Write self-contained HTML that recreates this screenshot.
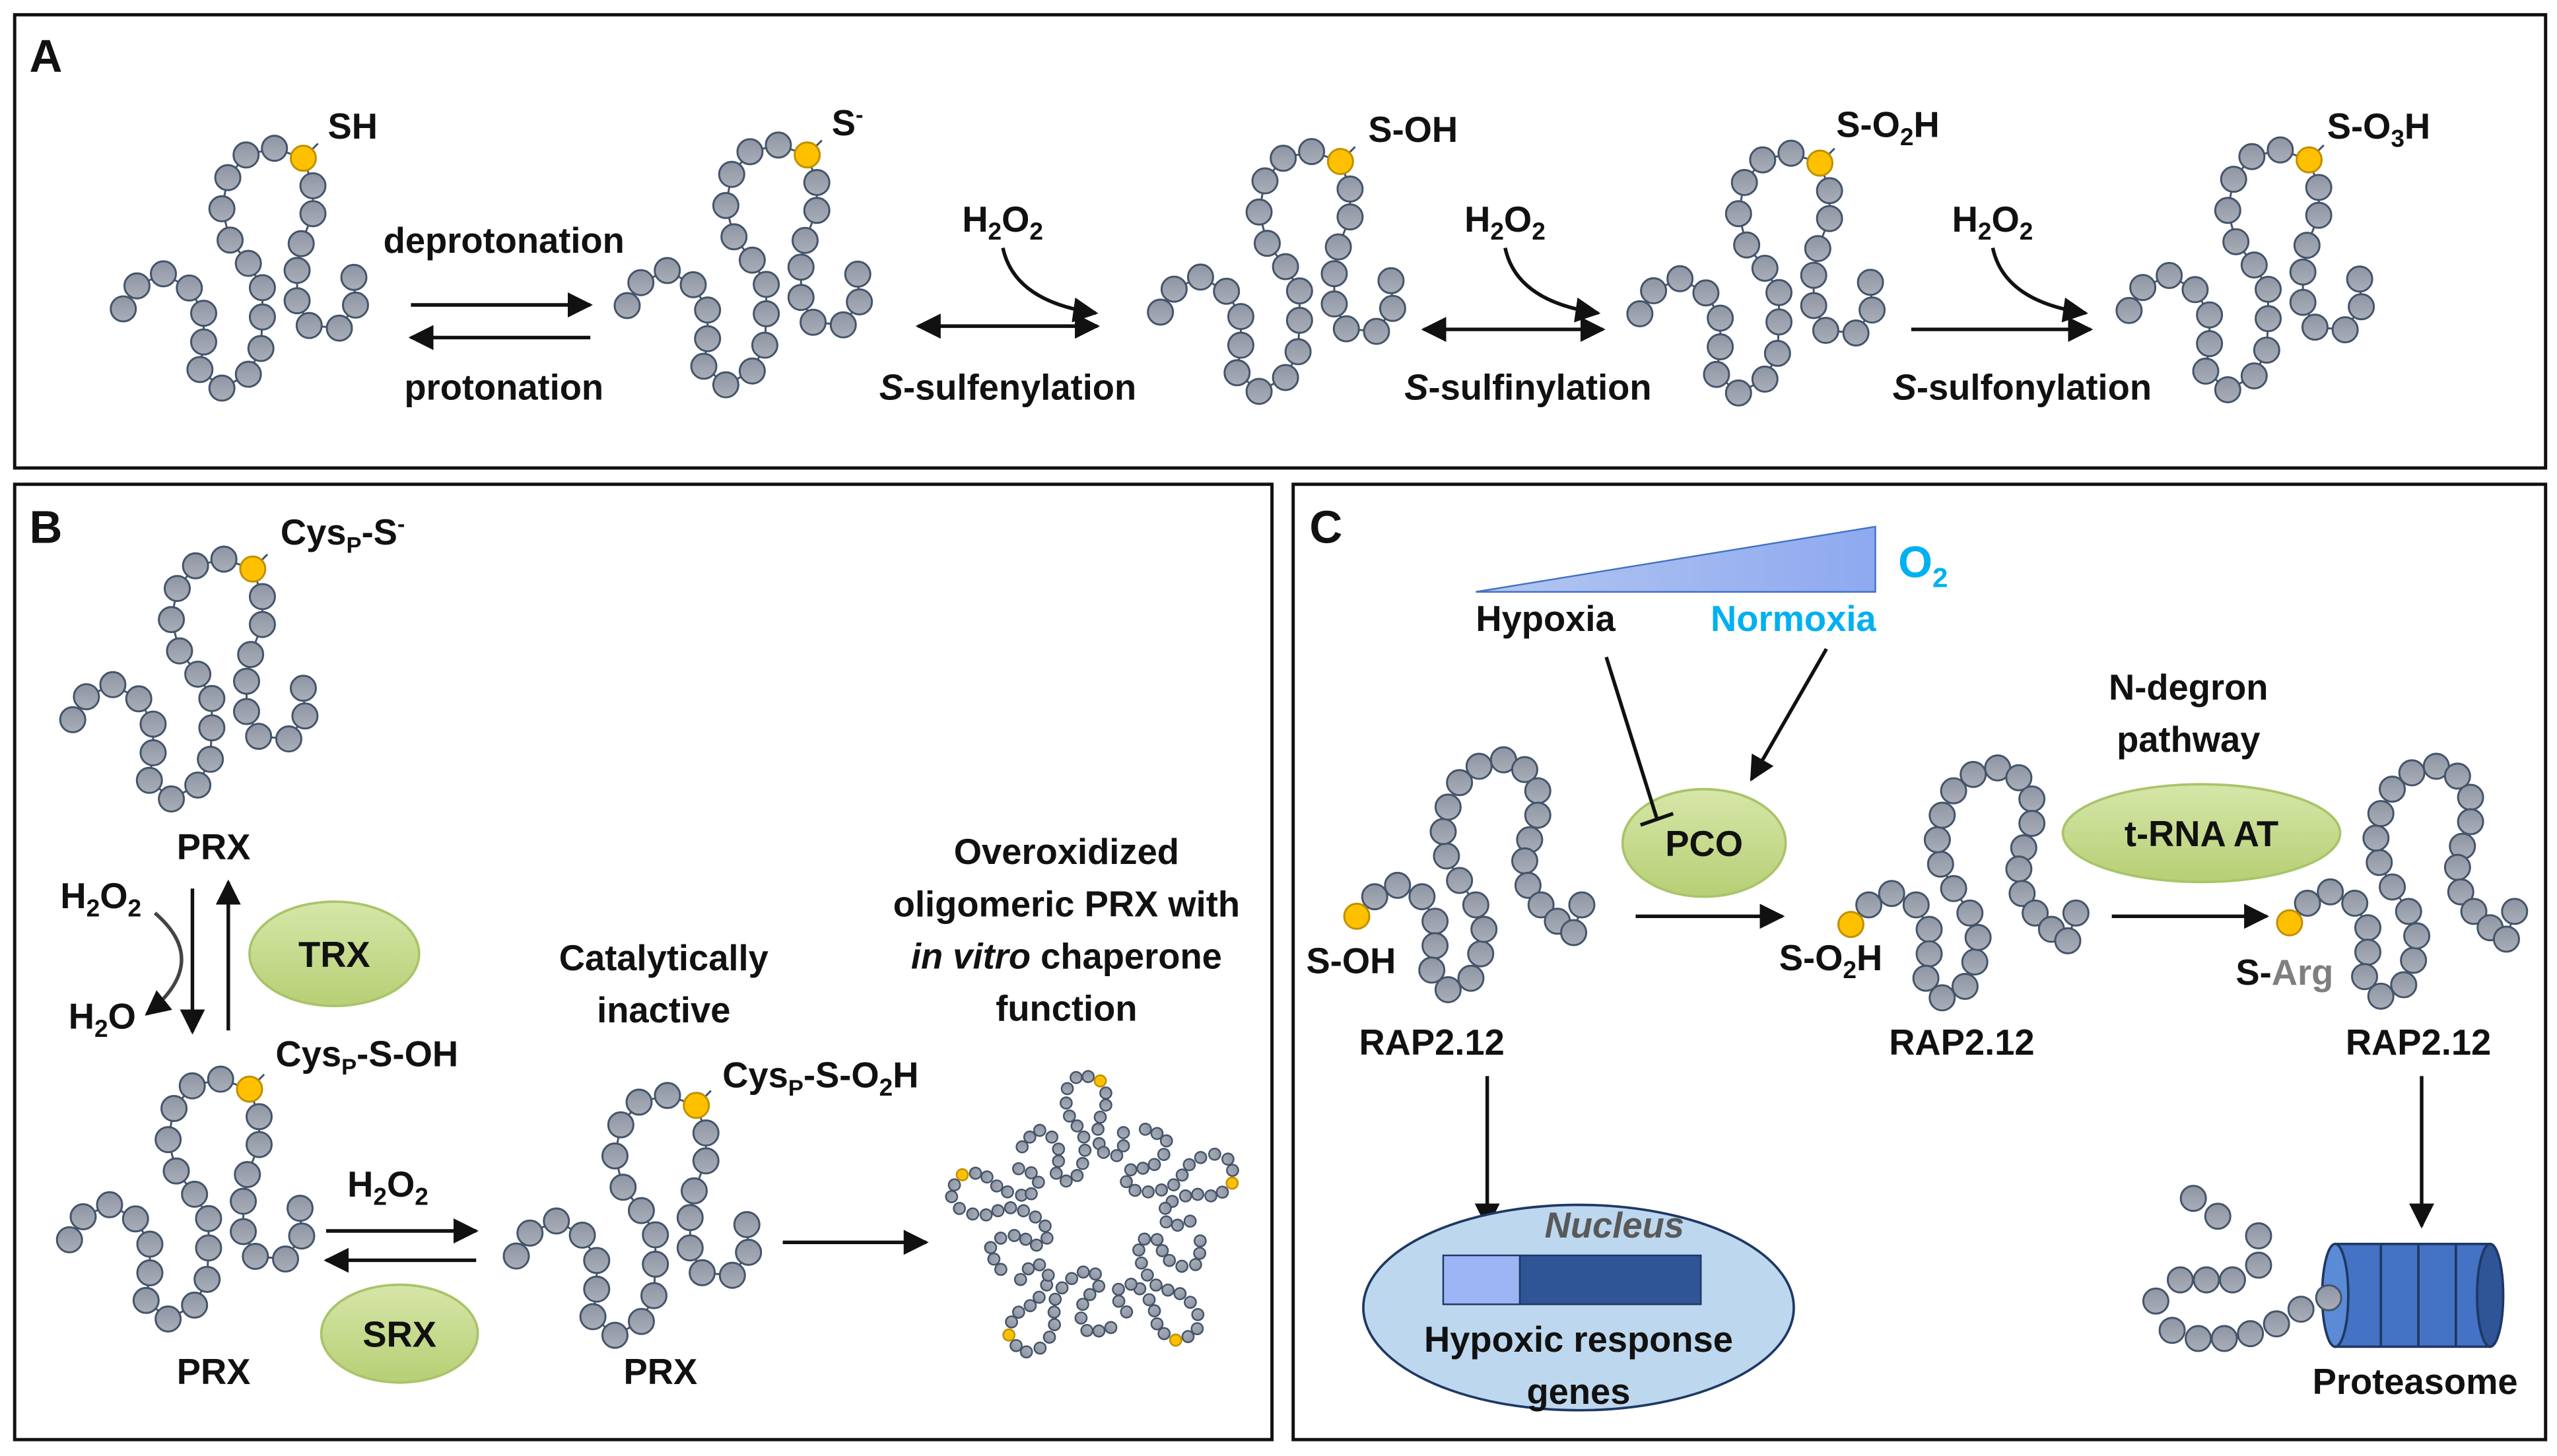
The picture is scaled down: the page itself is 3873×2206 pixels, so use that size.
<!DOCTYPE html>
<html><head><meta charset="utf-8"><style>
html,body{margin:0;padding:0;background:#fff}
svg{display:block}
text{font-family:"Liberation Sans",Arial,sans-serif;font-weight:bold;fill:#111}
</style></head><body>
<svg width="3873" height="2206" viewBox="0 0 1568 893" xmlns="http://www.w3.org/2000/svg">
<defs>
<marker id="ah" viewBox="0 0 10 10" refX="9" refY="5" markerWidth="7" markerHeight="7" orient="auto-start-reverse"><path d="M0,0 L10,5 L0,10 z" fill="#111"/></marker>
<linearGradient id="bg" x1="0" y1="0" x2="0" y2="1"><stop offset="0" stop-color="#8e95a3"/><stop offset="1" stop-color="#a9aeb8"/></linearGradient>
<linearGradient id="gg" x1="0" y1="0" x2="0" y2="1"><stop offset="0" stop-color="#d6e6a8"/><stop offset="1" stop-color="#b7cf75"/></linearGradient>
<linearGradient id="tg" x1="0" y1="0" x2="1" y2="0"><stop offset="0" stop-color="#b4c7f0"/><stop offset="1" stop-color="#8ea9f0"/></linearGradient>
<g id="p1" stroke="#44546a" stroke-width="1.2" fill="url(#bg)">
<polyline fill="none" points="-110.4,92.4 -102,78.3 -85.8,70.9 -69.9,79.6 -61.1,95.1 -61.1,112.7 -63.4,129.6 -49.9,141 -33.7,132.5 -26,116.7 -25.1,97.4 -25.1,79.4 -33.7,64.5 -44.9,50.2 -49.9,31 -46.3,11.9 -35.1,-2 -17.7,-6.1 0,0 5.9,16.9 5.9,34 -1.3,52.4 -3.8,68.8 -3.8,87.4 3.6,102.6 22.1,104.2 32,90.1 31,73.1"/>
<circle cx="-110.4" cy="92.4" r="7.7"/><circle cx="-102" cy="78.3" r="7.7"/><circle cx="-85.8" cy="70.9" r="7.7"/><circle cx="-69.9" cy="79.6" r="7.7"/><circle cx="-61.1" cy="95.1" r="7.7"/><circle cx="-61.1" cy="112.7" r="7.7"/><circle cx="-63.4" cy="129.6" r="7.7"/><circle cx="-49.9" cy="141" r="7.7"/><circle cx="-33.7" cy="132.5" r="7.7"/><circle cx="-26" cy="116.7" r="7.7"/><circle cx="-25.1" cy="97.4" r="7.7"/><circle cx="-25.1" cy="79.4" r="7.7"/><circle cx="-33.7" cy="64.5" r="7.7"/><circle cx="-44.9" cy="50.2" r="7.7"/><circle cx="-49.9" cy="31" r="7.7"/><circle cx="-46.3" cy="11.9" r="7.7"/><circle cx="-35.1" cy="-2" r="7.7"/><circle cx="-17.7" cy="-6.1" r="7.7"/><circle cx="5.9" cy="16.9" r="7.7"/><circle cx="5.9" cy="34" r="7.7"/><circle cx="-1.3" cy="52.4" r="7.7"/><circle cx="-3.8" cy="68.8" r="7.7"/><circle cx="-3.8" cy="87.4" r="7.7"/><circle cx="3.6" cy="102.6" r="7.7"/><circle cx="22.1" cy="104.2" r="7.7"/><circle cx="32" cy="90.1" r="7.7"/><circle cx="31" cy="73.1" r="7.7"/>
<line x1="4" y1="-4" x2="9" y2="-9" stroke="#44546a"/>
<circle cx="0" cy="0" r="7.7" fill="#ffc000" stroke="#bf9000"/>
</g>
<g id="p2" stroke="#44546a" stroke-width="1.2" fill="url(#bg)">
<polyline fill="none" points="0,0 11,-12 25,-19 40,-12 48,3 48,18 46,33 56,45 70,38 76,23 78,8 73,-7 63,-22 55,-37 53,-52 56,-67 63,-82 75,-92 90,-96 103,-90 111,-77 111,-62 106,-47 103,-34 105,-19 113,-7 123,3 133,10 138,-7"/>
<circle cx="11" cy="-12" r="7.7"/><circle cx="25" cy="-19" r="7.7"/><circle cx="40" cy="-12" r="7.7"/><circle cx="48" cy="3" r="7.7"/><circle cx="48" cy="18" r="7.7"/><circle cx="46" cy="33" r="7.7"/><circle cx="56" cy="45" r="7.7"/><circle cx="70" cy="38" r="7.7"/><circle cx="76" cy="23" r="7.7"/><circle cx="78" cy="8" r="7.7"/><circle cx="73" cy="-7" r="7.7"/><circle cx="63" cy="-22" r="7.7"/><circle cx="55" cy="-37" r="7.7"/><circle cx="53" cy="-52" r="7.7"/><circle cx="56" cy="-67" r="7.7"/><circle cx="63" cy="-82" r="7.7"/><circle cx="75" cy="-92" r="7.7"/><circle cx="90" cy="-96" r="7.7"/><circle cx="103" cy="-90" r="7.7"/><circle cx="111" cy="-77" r="7.7"/><circle cx="111" cy="-62" r="7.7"/><circle cx="106" cy="-47" r="7.7"/><circle cx="103" cy="-34" r="7.7"/><circle cx="105" cy="-19" r="7.7"/><circle cx="113" cy="-7" r="7.7"/><circle cx="123" cy="3" r="7.7"/><circle cx="133" cy="10" r="7.7"/><circle cx="138" cy="-7" r="7.7"/>
<circle cx="0" cy="0" r="7.7" fill="#ffc000" stroke="#bf9000"/>
</g>
<g id="pet" stroke="#44546a" stroke-width="1" fill="url(#bg)">
<circle cx="-45.2" cy="-46.6" r="3.5"/><circle cx="-40.5" cy="-52.6" r="3.5"/><circle cx="-34.4" cy="-56.7" r="3.5"/><circle cx="-27" cy="-52.6" r="3.5"/><circle cx="-22.9" cy="-45.2" r="3.5"/><circle cx="-22.9" cy="-37.8" r="3.5"/><circle cx="-24.3" cy="-30.4" r="3.5"/><circle cx="-18.2" cy="-25.6" r="3.5"/><circle cx="-11.5" cy="-29" r="3.5"/><circle cx="-8.1" cy="-36.4" r="3.5"/><circle cx="-6.7" cy="-44.5" r="3.5"/><circle cx="-7.4" cy="-52.6" r="3.5"/><circle cx="-11.5" cy="-59.4" r="3.5"/><circle cx="-16.2" cy="-65.5" r="3.5"/><circle cx="-18.2" cy="-73.5" r="3.5"/><circle cx="-17.5" cy="-82.3" r="3.5"/><circle cx="-12.1" cy="-89.1" r="3.5"/><circle cx="-4.7" cy="-89.7" r="3.5"/><circle cx="6.1" cy="-79.6" r="3.5"/><circle cx="6.1" cy="-72.2" r="3.5"/><circle cx="2.7" cy="-64.8" r="3.5"/><circle cx="1.3" cy="-57.4" r="3.5"/><circle cx="2" cy="-48.6" r="3.5"/><circle cx="4.7" cy="-43.2" r="3.5"/><circle cx="12.8" cy="-41.2" r="3.5"/><circle cx="16.9" cy="-47.2" r="3.5"/><circle cx="16.9" cy="-55.3" r="3.5"/>
<circle cx="2.7" cy="-87" r="3.5" fill="#ffc000" stroke="#bf9000"/>
</g>
</defs>

<!-- frames -->
<rect x="9" y="9" width="1552" height="278" fill="none" stroke="#111" stroke-width="2"/>
<rect x="9" y="297" width="771" height="586" fill="none" stroke="#111" stroke-width="2"/>
<rect x="793" y="297" width="768" height="586" fill="none" stroke="#111" stroke-width="2"/>
<text x="18" y="44" font-size="28">A</text>
<text x="18" y="333" font-size="28">B</text>
<text x="803" y="333" font-size="28">C</text>

<!-- Panel A -->
<use href="#p1" x="186" y="97"/>
<use href="#p1" x="495" y="95"/>
<use href="#p1" x="822" y="99"/>
<use href="#p1" x="1116" y="100"/>
<use href="#p1" x="1416" y="98"/>
<g font-size="22">
<text x="201" y="85">SH</text>
<text x="510" y="83">S<tspan font-size="14" dy="-8">-</tspan></text>
<text x="839" y="87">S-OH</text>
<text x="1126" y="84">S-O<tspan font-size="15" dy="5">2</tspan><tspan dy="-5">H</tspan></text>
<text x="1427" y="85">S-O<tspan font-size="15" dy="5">3</tspan><tspan dy="-5">H</tspan></text>
<text x="309" y="155" text-anchor="middle">deprotonation</text>
<text x="309" y="245" text-anchor="middle">protonation</text>
<text x="590" y="142">H<tspan font-size="15" dy="5">2</tspan><tspan dy="-5">O</tspan><tspan font-size="15" dy="5">2</tspan></text>
<text x="898" y="142">H<tspan font-size="15" dy="5">2</tspan><tspan dy="-5">O</tspan><tspan font-size="15" dy="5">2</tspan></text>
<text x="1197" y="142">H<tspan font-size="15" dy="5">2</tspan><tspan dy="-5">O</tspan><tspan font-size="15" dy="5">2</tspan></text>
<text x="618" y="245" text-anchor="middle"><tspan font-style="italic">S</tspan>-sulfenylation</text>
<text x="937" y="245" text-anchor="middle"><tspan font-style="italic">S</tspan>-sulfinylation</text>
<text x="1240" y="245" text-anchor="middle"><tspan font-style="italic">S</tspan>-sulfonylation</text>
</g>
<g stroke="#111" stroke-width="2.2" fill="none">
<line x1="252" y1="187" x2="362" y2="187" marker-end="url(#ah)"/>
<line x1="362" y1="207" x2="252" y2="207" marker-end="url(#ah)"/>
<line x1="563" y1="200" x2="673" y2="200" marker-start="url(#ah)" marker-end="url(#ah)"/>
<line x1="873" y1="202" x2="983" y2="202" marker-start="url(#ah)" marker-end="url(#ah)"/>
<line x1="1172" y1="202" x2="1282" y2="202" marker-end="url(#ah)"/>
<path d="M615,152 Q622,185 672,192" marker-end="url(#ah)"/>
<path d="M923,152 Q930,185 980,192" marker-end="url(#ah)"/>
<path d="M1222,152 Q1229,185 1279,192" marker-end="url(#ah)"/>
</g>

<!-- Panel B -->
<use href="#p1" x="155" y="349"/>
<use href="#p1" x="153" y="668"/>
<use href="#p1" x="427" y="678"/>
<g transform="translate(672,750)">
<use href="#pet"/>
<use href="#pet" transform="rotate(72)"/>
<use href="#pet" transform="rotate(144)"/>
<use href="#pet" transform="rotate(216)"/>
<use href="#pet" transform="rotate(288)"/>
</g>
<ellipse cx="205" cy="585" rx="52" ry="32" fill="url(#gg)" stroke="#a9c46a" stroke-width="1.5"/>
<ellipse cx="245" cy="818" rx="48" ry="30" fill="url(#gg)" stroke="#a9c46a" stroke-width="1.5"/>
<g font-size="22">
<text x="172" y="334">Cys<tspan font-size="14" dy="5">P</tspan><tspan dy="-5">-S</tspan><tspan font-size="14" dy="-8">-</tspan></text>
<text x="131" y="527" text-anchor="middle">PRX</text>
<text x="37" y="557">H<tspan font-size="15" dy="5">2</tspan><tspan dy="-5">O</tspan><tspan font-size="15" dy="5">2</tspan></text>
<text x="42" y="631">H<tspan font-size="15" dy="5">2</tspan><tspan dy="-5">O</tspan></text>
<text x="205" y="593" text-anchor="middle">TRX</text>
<text x="169" y="654">Cys<tspan font-size="14" dy="5">P</tspan><tspan dy="-5">-S-OH</tspan></text>
<text x="213" y="734">H<tspan font-size="15" dy="5">2</tspan><tspan dy="-5">O</tspan><tspan font-size="15" dy="5">2</tspan></text>
<text x="245" y="826" text-anchor="middle">SRX</text>
<text x="131" y="849" text-anchor="middle">PRX</text>
<text x="405" y="849" text-anchor="middle">PRX</text>
<text x="407" y="595" text-anchor="middle">Catalytically</text>
<text x="407" y="627" text-anchor="middle">inactive</text>
<text x="443" y="667">Cys<tspan font-size="14" dy="5">P</tspan><tspan dy="-5">-S-O</tspan><tspan font-size="15" dy="5">2</tspan><tspan dy="-5">H</tspan></text>
<text x="654" y="530" text-anchor="middle">Overoxidized</text>
<text x="654" y="562" text-anchor="middle">oligomeric PRX with</text>
<text x="654" y="594" text-anchor="middle"><tspan font-style="italic">in vitro</tspan> chaperone</text>
<text x="654" y="626" text-anchor="middle">function</text>
</g>
<g stroke="#111" stroke-width="2.2" fill="none">
<line x1="118" y1="545" x2="118" y2="633" marker-end="url(#ah)"/>
<line x1="140" y1="632" x2="140" y2="541" marker-end="url(#ah)"/>
<path d="M95,560 Q130,590 90,622" stroke="#444" marker-end="url(#ah)"/>
<line x1="200" y1="755" x2="292" y2="755" marker-end="url(#ah)"/>
<line x1="292" y1="773" x2="200" y2="773" marker-end="url(#ah)"/>
<line x1="480" y1="762" x2="568" y2="762" marker-end="url(#ah)"/>
</g>

<!-- Panel C -->
<polygon points="905,363 1150,323 1150,363" fill="url(#tg)" stroke="#4472c4" stroke-width="1"/>
<text x="1164" y="354" font-size="27" style="fill:#00b0f0">O<tspan font-size="17" dy="6">2</tspan></text>
<text x="905" y="387" font-size="22">Hypoxia</text>
<text x="1049" y="387" font-size="22" style="fill:#00b0f0">Normoxia</text>
<ellipse cx="1045" cy="517" rx="50" ry="33" fill="url(#gg)" stroke="#a9c46a" stroke-width="1.5"/>
<ellipse cx="1350" cy="511" rx="85" ry="30" fill="url(#gg)" stroke="#a9c46a" stroke-width="1.5"/>
<g stroke="#111" stroke-width="2.2" fill="none">
<line x1="985" y1="403" x2="1016" y2="502"/>
<line x1="1006" y1="506" x2="1026" y2="499"/>
<line x1="1120" y1="398" x2="1074" y2="478" marker-end="url(#ah)"/>
<line x1="1003" y1="562" x2="1093" y2="562" marker-end="url(#ah)"/>
<line x1="1295" y1="562" x2="1390" y2="562" marker-end="url(#ah)"/>
<line x1="912" y1="660" x2="912" y2="752" marker-end="url(#ah)"/>
<line x1="1485" y1="660" x2="1485" y2="752" marker-end="url(#ah)"/>
</g>
<use href="#p2" x="832" y="562"/>
<use href="#p2" x="1135" y="567"/>
<use href="#p2" x="1404" y="566"/>
<ellipse cx="968" cy="802" rx="132" ry="63" fill="#bdd7ee" stroke="#1f3864" stroke-width="1.5"/>
<rect x="885" y="770" width="47" height="30" fill="#9bb5f5" stroke="#1f3864" stroke-width="1"/>
<rect x="932" y="770" width="111" height="30" fill="#2f5597" stroke="#1f3864" stroke-width="1"/>
<g stroke="#44546a" stroke-width="1.2" fill="url(#bg)">
<circle cx="1345" cy="735" r="7.7"/><circle cx="1360" cy="746" r="7.7"/><circle cx="1385" cy="758" r="7.7"/><circle cx="1385" cy="776" r="7.7"/><circle cx="1369" cy="785" r="7.7"/><circle cx="1353" cy="785" r="7.7"/><circle cx="1337" cy="785" r="7.7"/><circle cx="1322" cy="798" r="7.7"/><circle cx="1332" cy="816" r="7.7"/><circle cx="1348" cy="821" r="7.7"/><circle cx="1364" cy="821" r="7.7"/><circle cx="1380" cy="818" r="7.7"/><circle cx="1396" cy="812" r="7.7"/><circle cx="1411" cy="803" r="7.7"/>
</g>
<g stroke="#1f3864" stroke-width="1.5">
<rect x="1432" y="763" width="95" height="63" fill="#4472c4"/>
<ellipse cx="1527" cy="794.5" rx="8" ry="31.5" fill="#2f5597"/>
<ellipse cx="1432" cy="794.5" rx="8" ry="31.5" fill="#5b8bd6"/>
<line x1="1460" y1="763" x2="1460" y2="826"/>
<line x1="1483" y1="763" x2="1483" y2="826"/>
<line x1="1506" y1="763" x2="1506" y2="826"/>
</g>
<circle cx="1428" cy="796" r="7.7" fill="url(#bg)" stroke="#44546a" stroke-width="1.2"/>
<g font-size="22">
<text x="1045" y="525" text-anchor="middle">PCO</text>
<text x="1350" y="519" text-anchor="middle">t-RNA AT</text>
<text x="1342" y="429" text-anchor="middle">N-degron</text>
<text x="1342" y="461" text-anchor="middle">pathway</text>
<text x="801" y="597">S-OH</text>
<text x="878" y="647" text-anchor="middle">RAP2.12</text>
<text x="1091" y="595">S-O<tspan font-size="15" dy="5">2</tspan><tspan dy="-5">H</tspan></text>
<text x="1203" y="647" text-anchor="middle">RAP2.12</text>
<text x="1371" y="604">S-<tspan style="fill:#7f7f7f">Arg</tspan></text>
<text x="1483" y="647" text-anchor="middle">RAP2.12</text>
<text x="990" y="759" text-anchor="middle" font-style="italic" style="fill:#595959">Nucleus</text>
<text x="968" y="829" text-anchor="middle">Hypoxic response</text>
<text x="968" y="861" text-anchor="middle">genes</text>
<text x="1481" y="855" text-anchor="middle">Proteasome</text>
</g>
</svg>
</body></html>
